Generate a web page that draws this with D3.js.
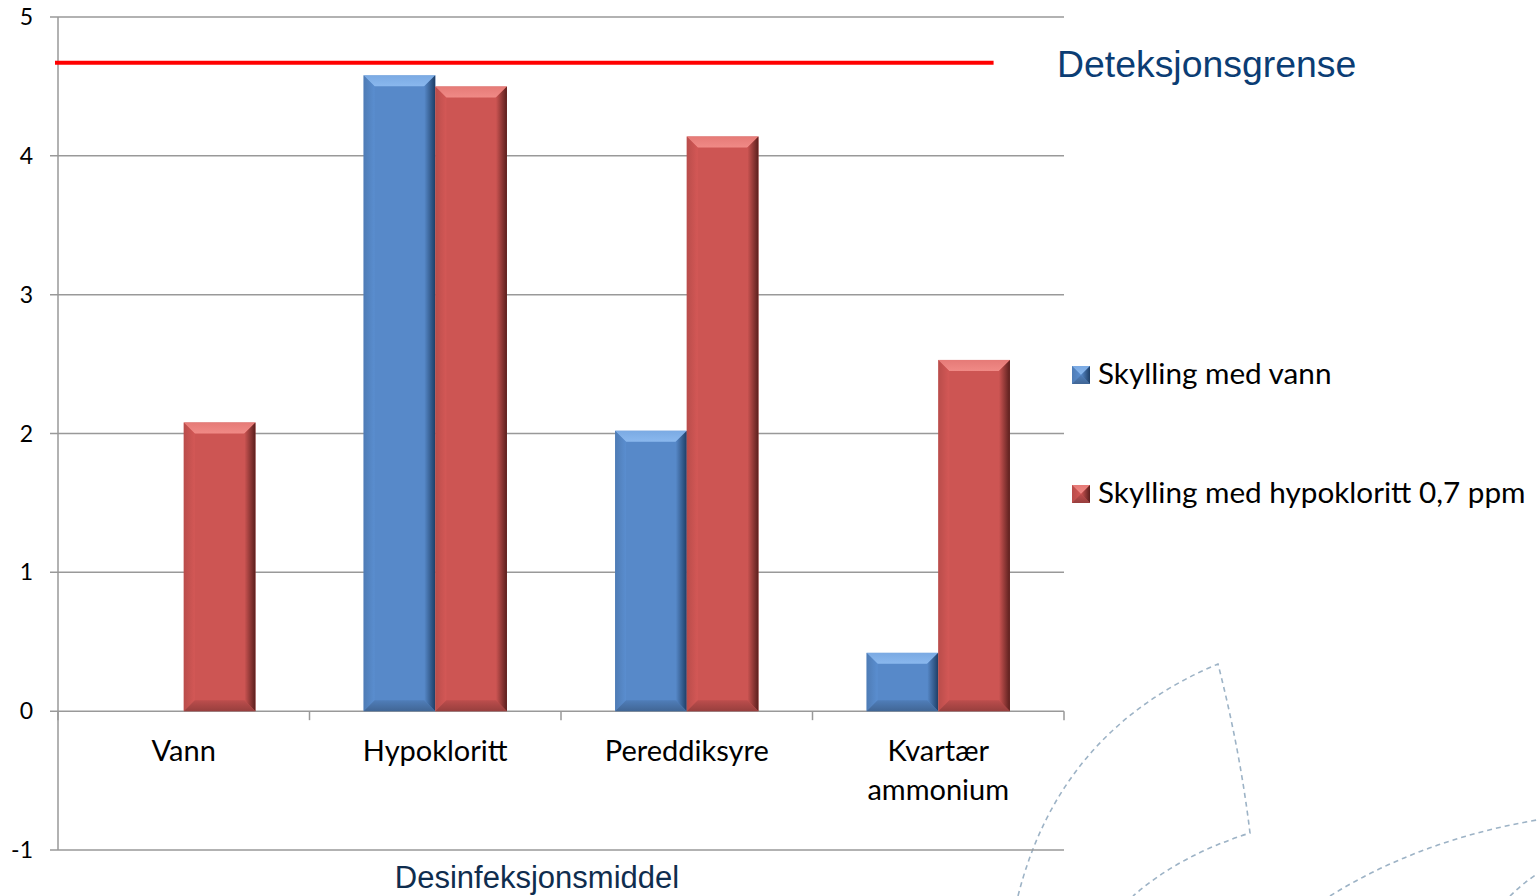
<!DOCTYPE html>
<html>
<head>
<meta charset="utf-8">
<script src="https://cdn.jsdelivr.net/npm/d3@7"></script>
<style>
  body { margin: 0; background: #fff; }
  svg { display: block; }
</style>
</head>
<body>
<div id="chart"></div>
<script>
// data
var categories = ["Vann", "Hypokloritt", "Pereddiksyre", "Kvartær ammonium"];
var seriesNames = ["Skylling med vann", "Skylling med hypokloritt 0,7 ppm"];
var vannValues = [0, 4.58, 2.02, 0.42];
var hypoValues = [2.08, 4.50, 4.14, 2.53];
var detectionLimit = 4.67;
var yTicks = [-1, 0, 1, 2, 3, 4, 5];

var width = 1537, height = 896;
var margin = {top: 17, left: 58, right: 473, bottom: 46};
var plotW = width - margin.left - margin.right,
    plotH = height - margin.top - margin.bottom;

var svg = d3.select("#chart").append("svg")
  .attr("width", width)
  .attr("height", height);

var defs = svg.append("defs");
var colors = ["#5789c9", "#cd5553"];
var light = ["#8ab8ee", "#f08a86"];
var dark = ["#1e3e66", "#5a1f1d"];

colors.forEach(function(c, i) {
  var g1 = defs.append("linearGradient").attr("id", "top" + i)
    .attr("x1", 0).attr("y1", 0).attr("x2", 0).attr("y2", 1);
  g1.append("stop").attr("offset", "0%").attr("stop-color", light[i]).attr("stop-opacity", 0.7);
  g1.append("stop").attr("offset", "100%").attr("stop-color", light[i]);
  var g2 = defs.append("linearGradient").attr("id", "right" + i)
    .attr("x1", 0).attr("y1", 0).attr("x2", 1).attr("y2", 0);
  g2.append("stop").attr("offset", "0%").attr("stop-color", c);
  g2.append("stop").attr("offset", "100%").attr("stop-color", dark[i]);
  var g3 = defs.append("linearGradient").attr("id", "left" + i)
    .attr("x1", 0).attr("y1", 0).attr("x2", 1).attr("y2", 0);
  g3.append("stop").attr("offset", "0%").attr("stop-color", d3.color(c).darker(0.5));
  g3.append("stop").attr("offset", "100%").attr("stop-color", d3.color(c).brighter(0.15));
  var g4 = defs.append("linearGradient").attr("id", "bottom" + i)
    .attr("x1", 0).attr("y1", 0).attr("x2", 0).attr("y2", 1);
  g4.append("stop").attr("offset", "0%").attr("stop-color", d3.color(c).darker(0.3));
  g4.append("stop").attr("offset", "100%").attr("stop-color", d3.color(c).darker(1.1));
});

// background decoration (dashed arcs)
var deco = svg.append("g")
  .attr("fill", "none")
  .attr("stroke", "#9db3c6")
  .attr("stroke-width", 1.6)
  .attr("stroke-dasharray", "5,4");
deco.append("path").attr("d", "M1018,896 Q1060,730 1218,664 Q1240,750 1250,833 Q1180,855 1133,896");
deco.append("path").attr("d", "M1330,896 Q1420,840 1537,820");
deco.append("path").attr("d", "M1510,896 Q1522,884 1537,874");

var g = svg.append("g")
  .attr("transform", "translate(" + margin.left + "," + margin.top + ")");

var y = d3.scaleLinear().domain([-1, 5]).range([plotH, 0]);
var x0 = d3.scaleBand().domain(categories).range([0, plotW]);
var x1 = d3.scaleBand().domain([0, 1])
  .range([x0.bandwidth() * 0.215, x0.bandwidth() * 0.785]);

// gridlines
g.append("g").selectAll("line").data(yTicks).join("line")
  .attr("x1", -8).attr("x2", plotW)
  .attr("y1", function(d) { return y(d); })
  .attr("y2", function(d) { return y(d); })
  .attr("stroke", "#999").attr("stroke-width", 1.5);

// y axis line
g.append("line")
  .attr("x1", 0).attr("x2", 0)
  .attr("y1", y(5)).attr("y2", y(-1))
  .attr("stroke", "#999").attr("stroke-width", 1.5);

// category ticks on the zero line
g.append("g").selectAll("line").data(d3.range(categories.length + 1)).join("line")
  .attr("x1", function(d) { return d * x0.step(); })
  .attr("x2", function(d) { return d * x0.step(); })
  .attr("y1", y(0)).attr("y2", y(0) + 9)
  .attr("stroke", "#999").attr("stroke-width", 1.5);

// y tick labels
g.append("g").selectAll("text").data(yTicks).join("text")
  .attr("x", -25).attr("y", function(d) { return y(d) + 8; })
  .attr("text-anchor", "end")
  .style("font-family", "Lato, 'Open Sans', sans-serif")
  .style("font-size", "23px")
  .text(function(d) { return d; });

// bars with bevel
function drawBar(sel, xx, yy, w, h, i) {
  var b = Math.min(11, h / 2, w / 2);
  sel.append("rect").attr("x", xx).attr("y", yy).attr("width", w).attr("height", h)
    .attr("fill", colors[i]);
  if (h <= 0) return;
  sel.append("polygon").attr("points", [[xx, yy], [xx + w, yy], [xx + w - b, yy + b], [xx + b, yy + b]].join(" "))
    .attr("fill", "url(#top" + i + ")");
  sel.append("polygon").attr("points", [[xx + w, yy], [xx + w, yy + h], [xx + w - b, yy + h - b], [xx + w - b, yy + b]].join(" "))
    .attr("fill", "url(#right" + i + ")");
  sel.append("polygon").attr("points", [[xx, yy], [xx + b, yy + b], [xx + b, yy + h - b], [xx, yy + h]].join(" "))
    .attr("fill", "url(#left" + i + ")").attr("opacity", 0.6);
  sel.append("polygon").attr("points", [[xx, yy + h], [xx + b, yy + h - b], [xx + w - b, yy + h - b], [xx + w, yy + h]].join(" "))
    .attr("fill", "url(#bottom" + i + ")").attr("opacity", 0.8);
}

var bars = g.append("g");
categories.forEach(function(c, ci) {
  [vannValues, hypoValues].forEach(function(vals, si) {
    var v = vals[ci];
    if (!v) return;
    var bx = x0(c) + x1(si);
    drawBar(bars.append("g"), bx, y(v), x1.bandwidth(), y(0) - y(v), si);
  });
});

// category labels
var catLabels = g.append("g").selectAll("text").data(categories).join("text")
  .attr("x", function(d) { return x0(d) + x0.bandwidth() / 2; })
  .attr("y", y(0) + 50)
  .attr("text-anchor", "middle")
  .style("font-family", "Lato, 'Open Sans', sans-serif")
  .style("font-size", "29px")
  .style("fill", "#000");
catLabels.each(function(d) {
  var words = d.split(" ");
  var t = d3.select(this);
  words.forEach(function(w, k) {
    t.append("tspan").attr("x", x0(d) + x0.bandwidth() / 2)
      .attr("dy", k === 0 ? 0 : 39).text(w);
  });
});

// detection limit line
g.append("line")
  .attr("x1", -3).attr("x2", x0("Kvartær ammonium") + x0.bandwidth() * 0.72)
  .attr("y1", y(detectionLimit)).attr("y2", y(detectionLimit))
  .attr("stroke", "#ff0000").attr("stroke-width", 4);

svg.append("text")
  .attr("x", 1057).attr("y", 77)
  .style("font-family", "'Liberation Sans', Arial, sans-serif")
  .style("font-size", "37.4px")
  .style("fill", "#0b3d74")
  .text("Deteksjonsgrense");

// x axis title
svg.append("text")
  .attr("x", 537).attr("y", 888)
  .attr("text-anchor", "middle")
  .style("font-family", "'Liberation Sans', Arial, sans-serif")
  .style("font-size", "31px")
  .style("fill", "#0f2d4e")
  .text("Desinfeksjonsmiddel");

// legend
var legend = svg.append("g").attr("transform", "translate(1072,366)");
seriesNames.forEach(function(name, i) {
  var lg = legend.append("g").attr("transform", "translate(0," + (i * 119) + ")");
  drawBar(lg, 0, 0, 18, 18, i);
  lg.append("text").attr("x", 26).attr("y", 18)
    .style("font-family", "Lato, 'Open Sans', sans-serif")
    .style("font-size", "29.7px")
    .text(name);
});
</script>
</body>
</html>
